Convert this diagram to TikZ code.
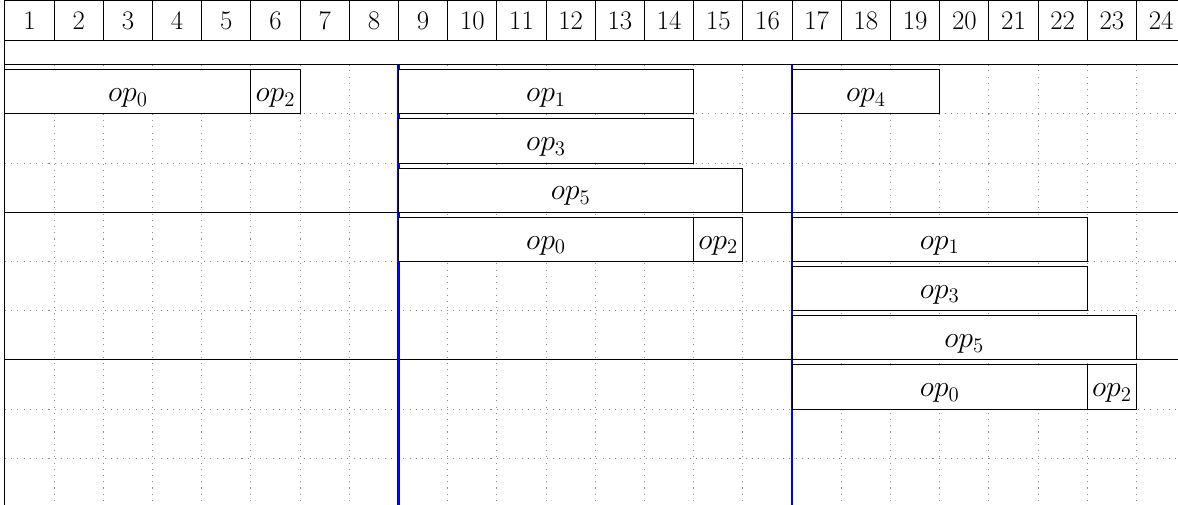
\RequirePackage{fix-cm}
\documentclass[tikz,border=0pt]{standalone}
\usepackage{fontspec}
\begin{document}
\begin{tikzpicture}[x=1cm,y=1cm,
  frame/.style={line width=0.6pt, black},
  gridl/.style={black!45, line width=0.6pt, dash pattern=on 0.6pt off 3pt},
  sepline/.style={blue, line width=1.3pt},
  opbox/.style={draw, line width=0.6pt, fill=white, inner sep=0pt, outer sep=0pt,
    minimum height=0.9cm, anchor=north west, font=\LARGE,
    text height=0.5cm, text depth=0.1cm},
  hnum/.style={font=\fontsize{15.5}{18}\selectfont, inner sep=0pt}]
\clip (-0.1,-8.935) rectangle (23.843,1.315);
% dotted grid
\draw[gridl] (0,0) grid (24.5,-9.5);
% header
\draw[frame] (0,0.5) rectangle (24,1.3);
\foreach \i in {1,...,23} \draw[frame] (\i,0.5) -- (\i,1.3);
\foreach \i in {1,...,24} \node[hnum] (h\i) at (\i-0.5,0.9) {\i};
% group separators
\draw[frame] (0,1.3) -- (0,-9.5);
\draw[frame] (0,0) -- (24.5,0);
\draw[frame] (0,-3) -- (24.5,-3);
\draw[frame] (0,-6) -- (24.5,-6);
% time markers
\coordinate (b1t) at (8,0);  \coordinate (b1b) at (8,-9.5);
\coordinate (b2t) at (16,0); \coordinate (b2b) at (16,-9.5);
\draw[sepline] (b1t) -- (b1b);
\draw[sepline] (b2t) -- (b2b);
% group 1
\node[opbox, minimum width=5cm] (g1a) at (0,-0.1) {$op_0$};
\node[opbox, minimum width=1cm] (g1b) at (5,-0.1) {$op_2$};
\node[opbox, minimum width=6cm] (g1c) at (8,-0.1) {$op_1$};
\node[opbox, minimum width=3cm] (g1d) at (16,-0.1) {$op_4$};
\node[opbox, minimum width=6cm] (g1e) at (8,-1.1) {$op_3$};
\node[opbox, minimum width=7cm] (g1f) at (8,-2.1) {$op_5$};
% group 2
\node[opbox, minimum width=6cm] (g2a) at (8,-3.1) {$op_0$};
\node[opbox, minimum width=1cm] (g2b) at (14,-3.1) {$op_2$};
\node[opbox, minimum width=6cm] (g2c) at (16,-3.1) {$op_1$};
\node[opbox, minimum width=6cm] (g2d) at (16,-4.1) {$op_3$};
\node[opbox, minimum width=7cm] (g2e) at (16,-5.1) {$op_5$};
% group 3
\node[opbox, minimum width=6cm] (g3a) at (16,-6.1) {$op_0$};
\node[opbox, minimum width=1cm] (g3b) at (22,-6.1) {$op_2$};
\end{tikzpicture}
\end{document}
